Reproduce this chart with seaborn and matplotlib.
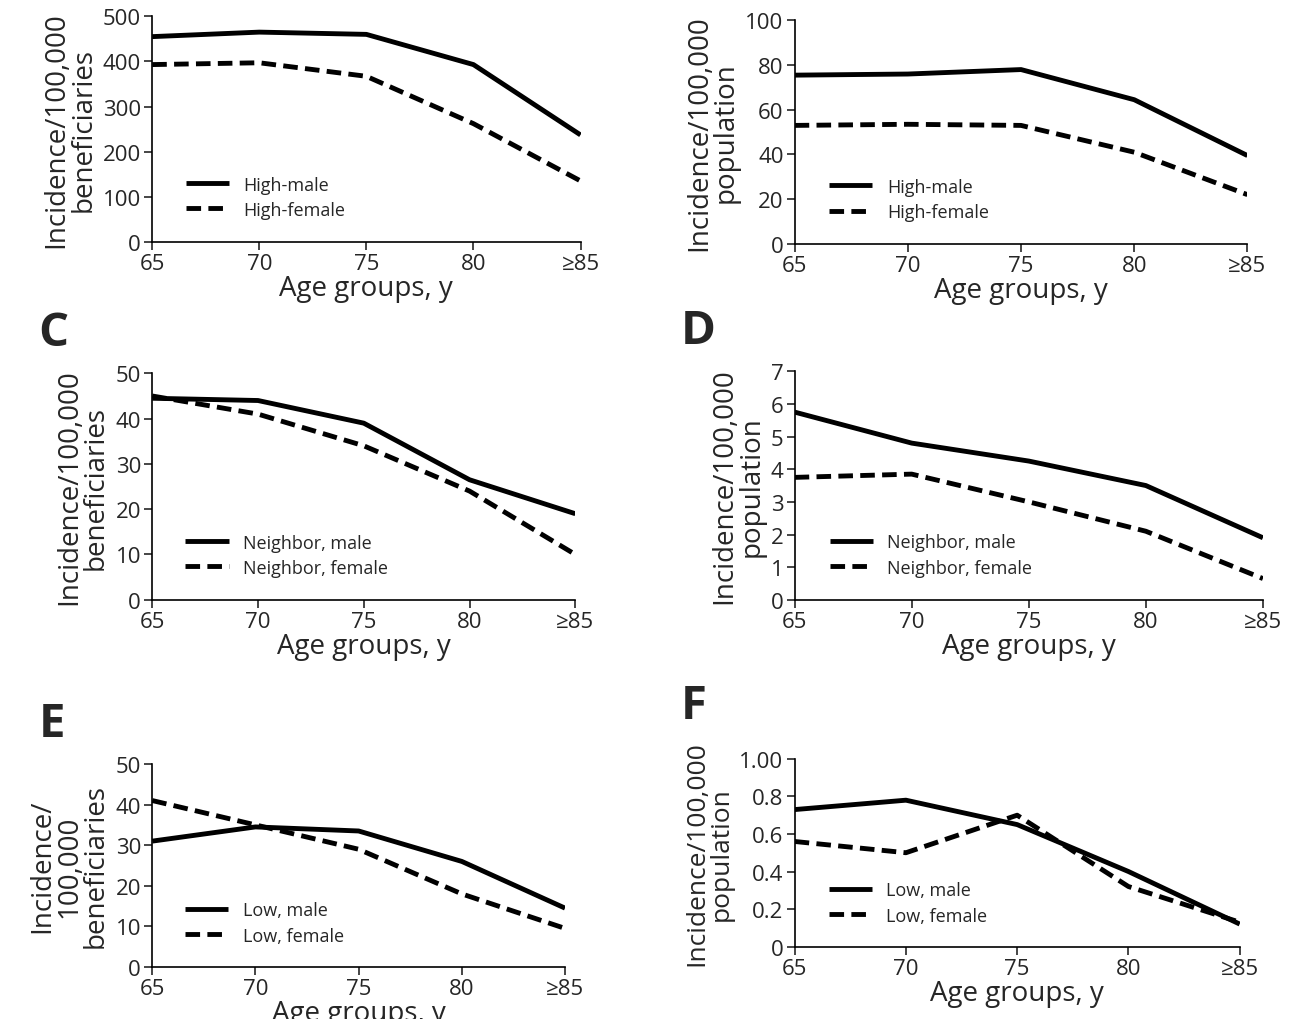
import pandas as pd
import matplotlib
matplotlib.use("Agg")
import matplotlib.pyplot as plt
import seaborn as sns

ages = ["65", "70", "75", "80", "≥85"]

a_male = [455, 465, 460, 393, 237]
a_female = [393, 397, 367, 262, 135]
b_male = [75.5, 76, 78, 64.5, 39.5]
b_female = [53, 53.5, 53, 41, 22]
c_male = [44.5, 44, 39, 26.5, 19]
c_female = [45, 41, 34, 24, 10]
d_male = [5.75, 4.8, 4.25, 3.5, 1.9]
d_female = [3.75, 3.85, 3.0, 2.1, 0.65]
e_male = [31, 34.5, 33.5, 26, 14.5]
e_female = [41, 35, 29, 18, 9.5]
f_male = [0.73, 0.78, 0.65, 0.4, 0.12]
f_female = [0.56, 0.5, 0.7, 0.32, 0.13]

sns.set_theme(style="ticks")
plt.rcParams['font.family'] = ['Open Sans', 'DejaVu Sans']

fig = plt.figure(figsize=(12.9, 10.2), dpi=100)

panels = [
    (None, [0.118, 0.762, 0.332, 0.221], a_male, a_female, ("High-male", "High-female"),
     "Incidence/100,000\nbeneficiaries", [0, 100, 200, 300, 400, 500], "{:.0f}"),
    (None, [0.616, 0.760, 0.351, 0.219], b_male, b_female, ("High-male", "High-female"),
     "Incidence/100,000\npopulation", [0, 20, 40, 60, 80, 100], "{:.0f}"),
    ("C", [0.118, 0.411, 0.328, 0.222], c_male, c_female, ("Neighbor, male", "Neighbor, female"),
     "Incidence/100,000\nbeneficiaries", [0, 10, 20, 30, 40, 50], "{:.0f}"),
    ("D", [0.616, 0.411, 0.363, 0.224], d_male, d_female, ("Neighbor, male", "Neighbor, female"),
     "Incidence/100,000\npopulation", [0, 1, 2, 3, 4, 5, 6, 7], "{:.0f}"),
    ("E", [0.118, 0.051, 0.320, 0.199], e_male, e_female, ("Low, male", "Low, female"),
     "Incidence/\n100,000\nbeneficiaries", [0, 10, 20, 30, 40, 50], "{:.0f}"),
    ("F", [0.616, 0.071, 0.345, 0.184], f_male, f_female, ("Low, male", "Low, female"),
     "Incidence/100,000\npopulation", [0, 0.2, 0.4, 0.6, 0.8, 1.0], None),
]

for letter, rect, male, female, labs, ylabel, yticks, yfmt in panels:
    ax = fig.add_axes(rect)
    df = pd.DataFrame({
        "x": list(range(5)) * 2,
        "y": male + female,
        "grp": [labs[0]] * 5 + [labs[1]] * 5,
    })
    sns.lineplot(data=df, x="x", y="y", style="grp", color="black", linewidth=3.5,
                 dashes=[(1, 0), (3, 1.5)], ax=ax)
    ax.set_xlim(0, 4)
    ax.set_ylim(yticks[0], yticks[-1])
    ax.set_xticks(range(5))
    ax.set_xticklabels(ages)
    ax.set_yticks(yticks)
    if yfmt:
        ax.set_yticklabels([yfmt.format(t) for t in yticks])
    else:
        ax.set_yticklabels(["0", "0.2", "0.4", "0.6", "0.8", "1.00"])
    ax.tick_params(labelsize=16, length=6, width=1.2, direction="out", pad=2)
    ax.set_xlabel("Age groups, y", fontsize=20, labelpad=0)
    ax.set_ylabel(ylabel, fontsize=19 if letter == "F" else 20, linespacing=0.95, labelpad=4)
    for s in ["top", "right"]:
        ax.spines[s].set_visible(False)
    for s in ["left", "bottom"]:
        ax.spines[s].set_color("black")
        ax.spines[s].set_linewidth(1.2)
    ax.legend(title=None, frameon=False, loc="lower left", bbox_to_anchor=(0.04, 0.03),
              fontsize=13, handlelength=2.4, labelspacing=0.4)
    if letter:
        dy = 0.052 if letter == "F" else 0.04
        fig.text(rect[0] - 0.088, rect[1] + rect[3] + dy, letter, fontsize=34,
                 fontweight="bold", va="center")

fig.savefig("out.png", dpi=100)
